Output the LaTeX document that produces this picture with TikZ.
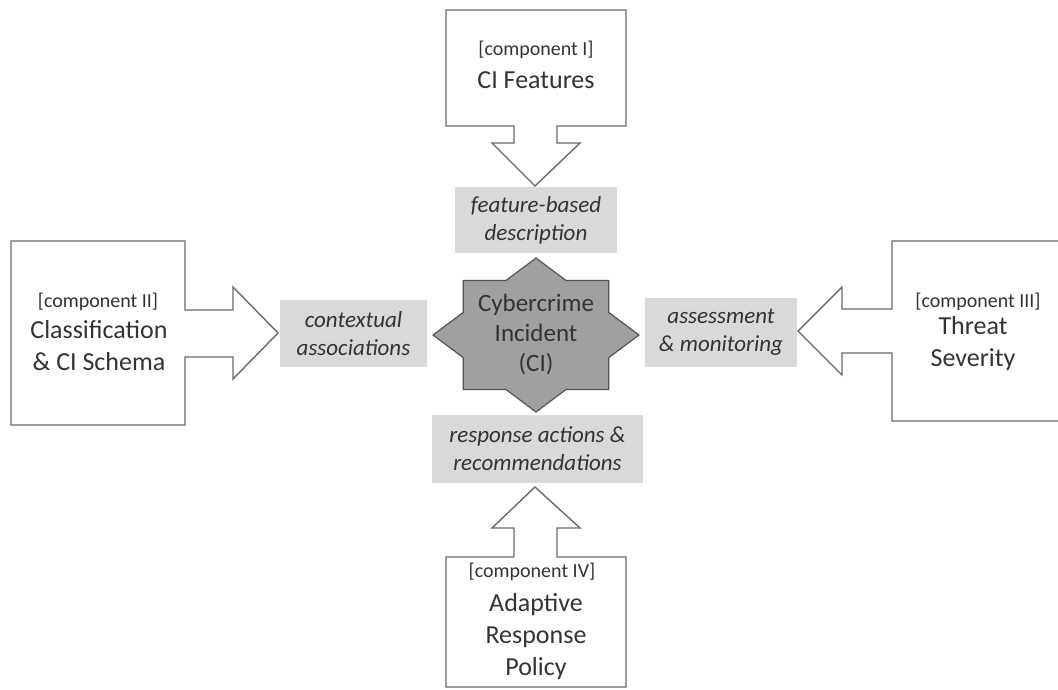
\documentclass[tikz,border=0pt]{standalone}
\usepackage{fontspec}
\setmainfont{Carlito}
\definecolor{txt}{HTML}{333333}
\definecolor{edge}{HTML}{6A6A6A}
\definecolor{lblfill}{HTML}{D9D9D9}
\definecolor{starfill}{HTML}{A0A0A0}
\definecolor{staredge}{HTML}{555555}
\tikzset{
  callout/.style={draw=edge, line width=1.4pt, fill=white, line join=miter},
  lbl/.style={fill=lblfill, inner sep=0pt, align=center, text=txt,
    font=\fontsize{23}{28}\selectfont\itshape},
  comp/.style={inner sep=0pt, text=txt, font=\fontsize{20}{24}\selectfont},
  title/.style={inner sep=0pt, align=center, text=txt, font=\fontsize{26}{32}\selectfont},
  startxt/.style={inner sep=0pt, align=center, text=txt, font=\fontsize{25}{30}\selectfont},
}
\begin{document}
\begin{tikzpicture}[x=1pt,y=-1pt]
\useasboundingbox[fill=white] (0,0) rectangle (1058,689);

% top callout (component I)
\draw[callout] (446,10) -- (626,10) -- (626,126) -- (557,126) -- (557,143) -- (580,143)
  -- (535,186) -- (492,143) -- (514,143) -- (514,126) -- (446,126) -- cycle;
% left callout (component II)
\draw[callout] (11,241) -- (185,241) -- (185,310) -- (233,310) -- (233,287) -- (278,333)
  -- (233,379) -- (233,357) -- (185,357) -- (185,425) -- (11,425) -- cycle;
% right callout (component III), cut by the right edge
\fill[white] (1058,241) -- (892,241) -- (892,309) -- (842,309) -- (842,287) -- (798,331)
  -- (842,375) -- (842,353) -- (892,353) -- (892,421) -- (1058,421) -- cycle;
\draw[callout] (1058,241) -- (892,241) -- (892,309) -- (842,309) -- (842,287) -- (798,331)
  -- (842,375) -- (842,353) -- (892,353) -- (892,421) -- (1058,421);
% bottom callout (component IV)
\draw[callout] (446,687) -- (446,557) -- (514,557) -- (514,528) -- (492,528) -- (535,487)
  -- (580,528) -- (557,528) -- (557,557) -- (626,557) -- (626,687) -- cycle;

% central star
\coordinate (ci) at (536,335);
\filldraw[fill=starfill, draw=staredge, line width=1.2pt, line join=miter]
  ({536+103}, 335)
  \foreach \k in {1,...,15} {
    -- ({536+103*(1-0.235*mod(\k,2))*cos(22.5*\k)}, {335+77*(1-0.235*mod(\k,2))*sin(22.5*\k)})
  } -- cycle;
\node[startxt] (cit) at (ci) {Cybercrime\\Incident\\(CI)};

% component texts
\node[comp] (c1) at (536,50) {[component I]};
\node[title] (t1) at (536,80) {CI Features};
\node[comp] (c2) at (98,302) {[component II]};
\node[title] (t2) at (99,346) {Classification\\\&\ CI Schema};
\node[comp] (c3) at (978,302) {[component III]};
\node[title] (t3) at (973,344) {Threat\\Severity};
\node[comp] (c4) at (532,572) {[component IV]};
\node[title] (t4) at (536,637) {Adaptive\\Response\\Policy};

% relation labels
\node[lbl, minimum width=162pt, minimum height=66pt] (l1) at (536,220) {feature-based\\description};
\node[lbl, minimum width=147pt, minimum height=67pt] (l2) at (353.5,333.5) {contextual\\associations};
\node[lbl, minimum width=152pt, minimum height=69pt] (l3) at (721,332.5) {assessment\\\&\ monitoring};
\node[lbl, minimum width=211pt, minimum height=68pt] (l4) at (537.5,449) {response actions \&\\recommendations};
\end{tikzpicture}
\end{document}
